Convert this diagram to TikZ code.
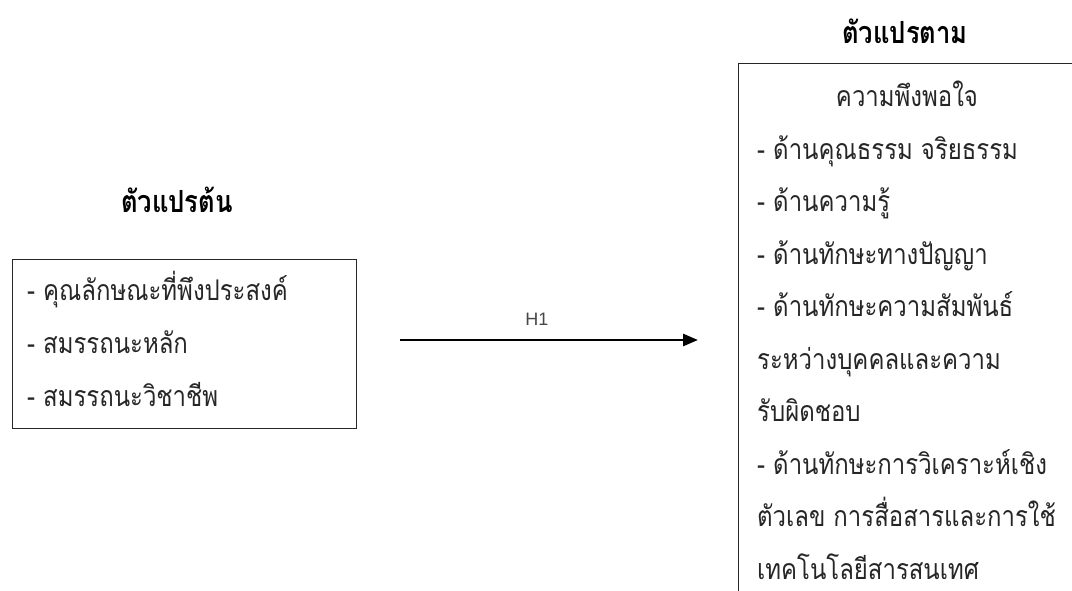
\documentclass[tikz,border=0pt]{standalone}
\usepackage{fontspec}
\usetikzlibrary{arrows.meta}
\newfontfamily\thaifont[Script=Thai, FakeStretch=0.84]{Loma}
\newfontfamily\latinfont{Liberation Sans}
\definecolor{txt}{HTML}{262626}
\tikzset{
  boxframe/.style={draw=black!85, line width=1.4pt, inner sep=0pt},
  bodytext/.style={font=\thaifont\fontsize{28.5}{28.5}\selectfont, text=txt, inner sep=0pt, anchor=base west},
  titletext/.style={font=\thaifont\bfseries\fontsize{30.5}{30.5}\selectfont, text=black, inner sep=0pt, anchor=base},
  mainarrow/.style={line width=2.8pt, -{Triangle[length=15pt,width=12pt]}}
}
\begin{document}
\begin{tikzpicture}[x=1pt,y=-1pt]
\useasboundingbox (0,0) rectangle (1072,590);
\clip (0,0) rectangle (1072,590);
\fill[white] (0,0) rectangle (1072,590);
% independent variables
\node[titletext] (t1) at (177,212) {ตัวแปรต้น};
\node[boxframe, anchor=north west, minimum width=344pt, minimum height=169pt] (iv) at (12,259) {};
\node[bodytext] (iv1) at (27,300) {- คุณลักษณะที่พึงประสงค์};
\node[bodytext] (iv2) at (27,353) {- สมรรถนะหลัก};
\node[bodytext] (iv3) at (27,406) {- สมรรถนะวิชาชีพ};
% dependent variables
\node[titletext] (t2) at (905,43) {ตัวแปรตาม};
\node[boxframe, anchor=north west, minimum width=400pt, minimum height=600pt] (dv) at (738,63) {};
\node[bodytext, anchor=base] (dv0) at (907,106) {ความพึงพอใจ};
\node[bodytext] (dv1) at (757,159) {- ด้านคุณธรรม จริยธรรม};
\node[bodytext] (dv2) at (757,211.5) {- ด้านความรู้};
\node[bodytext] (dv3) at (757,264) {- ด้านทักษะทางปัญญา};
\node[bodytext] (dv4) at (757,316.5) {- ด้านทักษะความสัมพันธ์};
\node[bodytext] (dv5) at (757,369) {ระหว่างบุคคลและความ};
\node[bodytext] (dv6) at (757,421.5) {รับผิดชอบ};
\node[bodytext] (dv7) at (757,474) {- ด้านทักษะการวิเคราะห์เชิง};
\node[bodytext] (dv8) at (757,526.5) {ตัวเลข การสื่อสารและการใช้};
\node[bodytext] (dv9) at (757,579) {เทคโนโลยีสารสนเทศ};
% hypothesis arrow
\coordinate (a1) at (400,340);
\coordinate (a2) at (698,340);
\draw[mainarrow] (a1) -- (a2);
\node[font=\latinfont\fontsize{18}{18}\selectfont, text=black!72, inner sep=0pt, anchor=base] (h1) at (537,325) {H1};
\end{tikzpicture}
\end{document}
